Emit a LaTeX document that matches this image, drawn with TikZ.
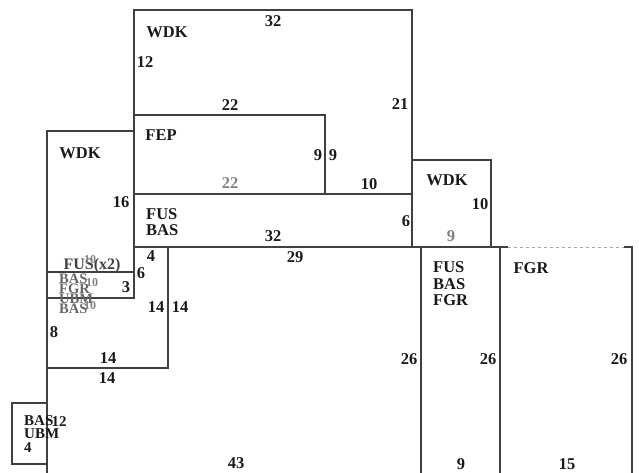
\documentclass[tikz,border=0pt]{standalone}
\usepackage{fontspec}
\setmainfont{Liberation Serif}
\begin{document}
\begin{tikzpicture}[x=1pt,y=-1pt,
  box/.style={draw=black!75,line width=1.2pt},
  lab/.style={font=\fontsize{16.5}{16.5}\selectfont\bfseries, inner sep=0pt, text=black!90},
  glab/.style={lab, text=black!50},
  stack/.style={lab, align=left, font=\fontsize{16.5}{16.5}\selectfont\bfseries}]
\useasboundingbox (0,0) rectangle (639,472);
% boxes
\draw[box] (134,10) rectangle (412,194);
\draw[box] (134,115) rectangle (325,194);
\draw[box] (134,194) rectangle (412,247);
\draw[box] (412,160) rectangle (491,247);
\draw[box] (421,247) rectangle (500,475);
\draw[box] (500,475) -- (500,247) -- (508,247);
\draw[box] (624,247) -- (632,247) -- (632,475);
\draw[black!35,line width=0.8pt,dashed] (508,247) -- (624,247);
\draw[box] (47,131) rectangle (134,272);
\draw[box] (47,272) rectangle (134,298);
\draw[box] (134,247) -- (168,247) -- (168,368) -- (47,368);
\draw[box] (168,247) -- (421,247) -- (421,475) -- (47,475) -- (47,298);
\draw[box] (12,403) rectangle (47,464);
% labels
\node[lab] (n1) at (167,32) {WDK};
\node[lab] (n2) at (273,21) {32};
\node[lab] (n3) at (145,62) {12};
\node[lab] (n4) at (230,105) {22};
\node[lab] (n5) at (400,104) {21};
\node[lab] (n6) at (161,135) {FEP};
\node[lab] (n7) at (318,155) {9};
\node[lab] (n8) at (333,155) {9};
\node[glab] (n9) at (230,183) {22};
\node[lab] (n10) at (369,184) {10};
\node[lab] (n11) at (80,153) {WDK};
\node[lab] (n12) at (121,202) {16};
\node[stack, anchor=west] (n13) at (146,222) {FUS\\BAS};
\node[lab] (n14) at (273,236) {32};
\node[lab] (n15) at (406,221) {6};
\node[lab] (n16) at (447,180) {WDK};
\node[lab] (n17) at (480,204) {10};
\node[glab] (n18) at (451,236) {9};
\node[stack, anchor=west] (n19) at (433,284) {FUS\\BAS\\FGR};
\node[lab] (n20) at (531,268) {FGR};
\node[lab] (n21) at (295,257) {29};
\node[lab] (n22) at (151,256) {4};
\node[lab] (n23) at (141,273) {6};
\node[lab] (n24) at (126,287) {3};
\node[lab] (n25) at (156,307) {14};
\node[lab] (n26) at (180,307) {14};
\node[lab] (n27) at (409,359) {26};
\node[lab] (n28) at (54,332) {8};
\node[lab] (n29) at (108,358) {14};
\node[lab] (n30) at (107,378) {14};
\node[lab] (n31) at (488,359) {26};
\node[lab] (n32) at (619,359) {26};
\node[lab] (n33) at (461,464) {9};
\node[lab] (n34) at (567,464) {15};
\node[lab] (n35) at (236,463) {43};
% small box stack
\node[lab, align=left, anchor=north west, font=\fontsize{15}{13.5}\selectfont\bfseries] (n36) at (24,415) {BAS\\UBM\\4};
\node[lab, font=\fontsize{15}{15}\selectfont\bfseries] (n37) at (59,422) {12};
% jumbled labels
\node[lab, text=black!75, font=\fontsize{16}{16}\selectfont\bfseries] (n38) at (92,266) {FUS(x2)};
\node[glab, font=\fontsize{12}{12}\selectfont\bfseries] (n39) at (90,260) {10};
\node[lab, text=black!60, align=left, anchor=north west, font=\fontsize{14.5}{10}\selectfont\bfseries] (n40) at (59,274) {BAS\\FGR\\UBM\\BAS};
\node[glab, font=\fontsize{12}{12}\selectfont\bfseries] (n41) at (92,283) {10};
\node[glab, font=\fontsize{12}{12}\selectfont\bfseries] (n42) at (90,306) {10};
\end{tikzpicture}
\end{document}
